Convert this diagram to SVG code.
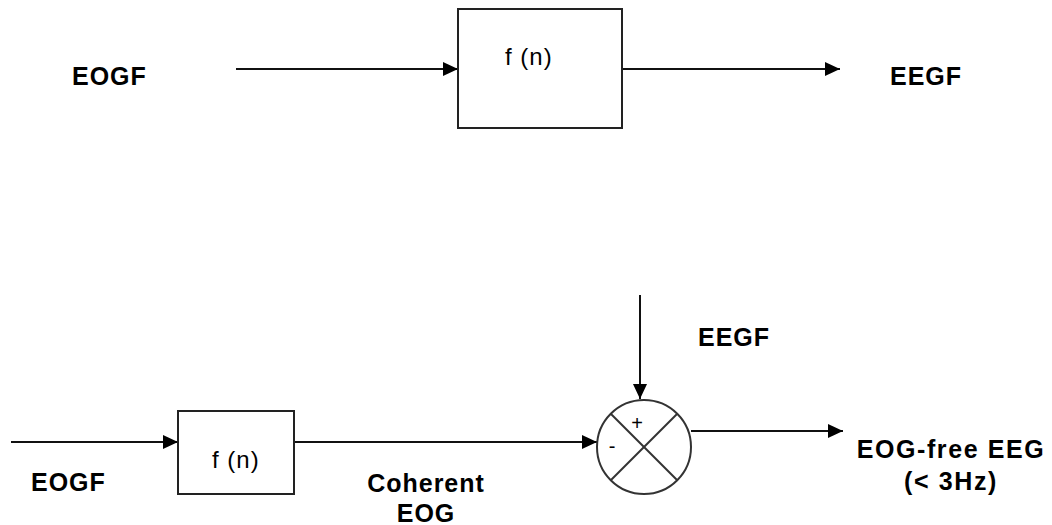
<svg xmlns="http://www.w3.org/2000/svg" width="1052" height="525" viewBox="0 0 1052 525">
<style>
.lbl{font-family:"Liberation Sans",Arial,sans-serif;font-weight:bold;font-size:25px;fill:#000;letter-spacing:1px}
.wide{letter-spacing:1.6px}
.fn{font-family:"Liberation Sans",Arial,sans-serif;font-size:24px;fill:#000;letter-spacing:1px}
.sg{font-family:"Liberation Sans",Arial,sans-serif;font-size:20px;fill:#000}
.box{fill:#fff;stroke:#222;stroke-width:2}
.ln{stroke:#111;stroke-width:2;fill:none}
</style>
<defs>
<marker id="ah" markerWidth="15" markerHeight="14" refX="15" refY="7" orient="auto" markerUnits="userSpaceOnUse">
<path d="M0,0 L15,7 L0,14 Z" fill="#000"/>
</marker>
</defs>
<rect width="1052" height="525" fill="#fff"/>
<g id="connectors">
<line class="ln" x1="236" y1="69" x2="458" y2="69" marker-end="url(#ah)"/>
<line class="ln" x1="622" y1="69" x2="840" y2="69" marker-end="url(#ah)"/>
<line class="ln" x1="11" y1="442" x2="178" y2="442" marker-end="url(#ah)"/>
<line class="ln" x1="294" y1="442" x2="597" y2="442" marker-end="url(#ah)"/>
<line class="ln" x1="640" y1="295" x2="640" y2="399" marker-end="url(#ah)"/>
<line class="ln" x1="691" y1="431" x2="843" y2="431" marker-end="url(#ah)"/>
</g>
<g id="label-eogf-top"><text class="lbl" x="72" y="85">EOGF</text></g>
<g id="filter-top">
<rect class="box" x="458" y="9" width="164" height="119"/>
<text class="fn" x="505" y="65">f (n)</text>
</g>
<g id="label-eegf-top"><text class="lbl" x="890" y="85">EEGF</text></g>
<g id="label-eogf-bottom"><text class="lbl" x="31" y="491">EOGF</text></g>
<g id="filter-bottom">
<rect class="box" x="178" y="411" width="116" height="83"/>
<text class="fn" x="212" y="468">f (n)</text>
</g>
<g id="label-coherent"><text class="lbl" x="426" y="492" text-anchor="middle">Coherent<tspan x="426" dy="30">EOG</tspan></text></g>
<g id="label-eegf-bottom"><text class="lbl" x="698" y="346">EEGF</text></g>
<g id="summer">
<circle cx="644" cy="447" r="47" fill="#fff" stroke="#333" stroke-width="2"/>
<line x1="611" y1="414" x2="677" y2="480" stroke="#333" stroke-width="2"/>
<line x1="677" y1="414" x2="611" y2="480" stroke="#333" stroke-width="2"/>
<text class="sg" x="637" y="430" text-anchor="middle">+</text>
<text class="sg" x="612" y="453" text-anchor="middle">-</text>
</g>
<g id="label-output"><text class="lbl wide" x="951" y="458" text-anchor="middle">EOG-free EEG<tspan x="951" dy="32">(&lt; 3Hz)</tspan></text></g>
</svg>
